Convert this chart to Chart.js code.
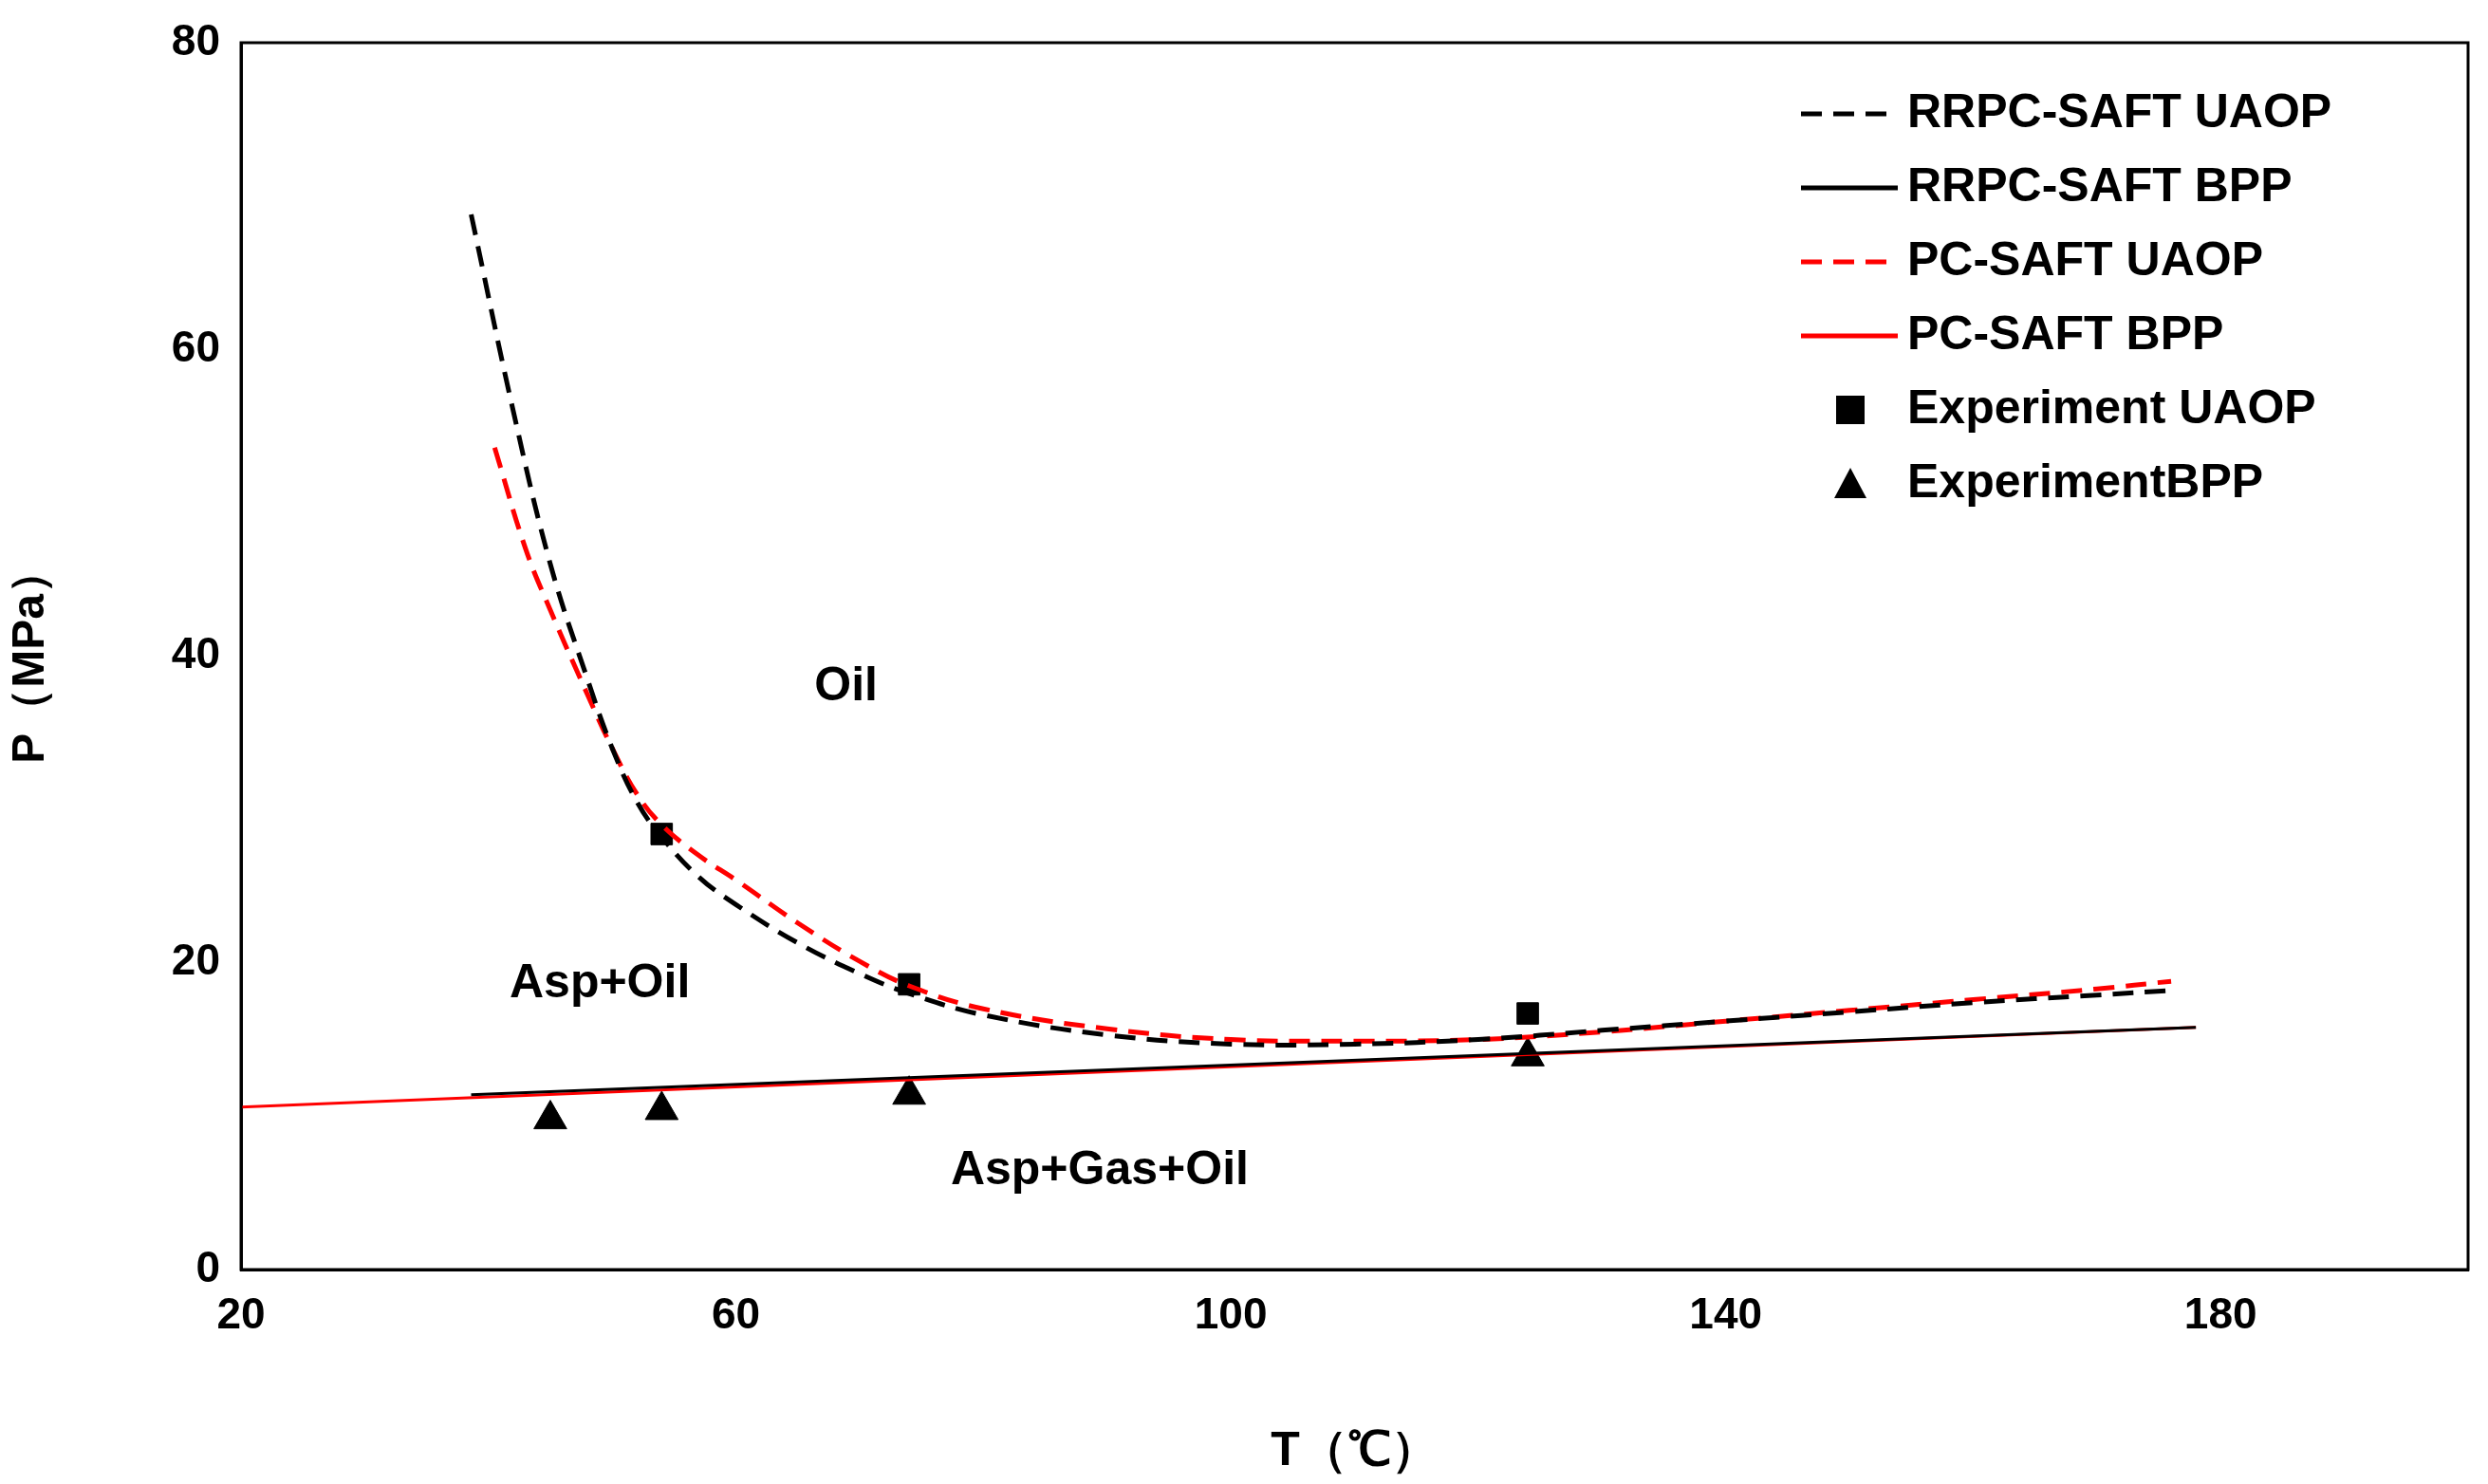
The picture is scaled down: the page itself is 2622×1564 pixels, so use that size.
<!DOCTYPE html>
<html><head><meta charset="utf-8">
<script src="https://cdn.jsdelivr.net/npm/chart.js@4"></script>
<style>html,body{margin:0;padding:0;background:#fff}canvas{display:block}</style>
</head><body>
<div style="width:2622px;height:1564px"><canvas id="c"></canvas></div>
<script>
const rrUaopT = [38.6, 42, 45, 48, 50, 52, 54, 57, 60, 65, 70, 74, 80, 90, 100, 110, 120, 130, 140, 150, 160, 170, 176];
const rrUaopP = [68.8, 56, 46, 38.5, 34, 30.5, 28.2, 25.6, 23.8, 21.3, 19.3, 18.0, 16.6, 15.3, 14.7, 14.7, 15.0, 15.6, 16.2, 16.8, 17.4, 17.9, 18.2];
const pcUaopT = [40.5, 43, 45, 48, 50, 52, 54, 57, 60, 65, 70, 74, 80, 90, 100, 110, 120, 130, 140, 150, 160, 170, 176];
const pcUaopP = [53.6, 47, 43, 37.5, 34, 31, 29.0, 27.0, 25.4, 22.6, 20.1, 18.5, 17.0, 15.7, 15.0, 14.9, 15.0, 15.5, 16.2, 16.9, 17.6, 18.3, 18.8];
const rrBppT = [38.6, 178];
const rrBppP = [11.4, 15.8];
const pcBppT = [20, 178];
const pcBppP = [10.6, 15.8];
const expUaopT = [54, 74, 124];
const expUaopP = [28.4, 18.6, 16.7];
const expBppT = [45, 54, 74, 124];
const expBppP = [9.8, 10.4, 11.4, 13.9];
const regionLabels = [["Oil", 68.9, 38], ["Asp+Oil", 49, 18.6], ["Asp+Gas+Oil", 89.4, 6.4]];
const legendItems = [
  ["RRPC-SAFT UAOP", "dash", "#000"], ["RRPC-SAFT BPP", "line", "#000"],
  ["PC-SAFT UAOP", "dash", "#f00"], ["PC-SAFT BPP", "line", "#f00"],
  ["Experiment UAOP", "square", "#000"], ["ExperimentBPP", "tri", "#000"]];
const pts = (a, b) => a.map((v, i) => ({x: v, y: b[i]}));
const FONT = "'Liberation Sans', Arial, sans-serif";

const overlay = {
  id: 'overlay',
  afterDraw(ch) {
    const c = ch.ctx, xs = ch.scales.x, ys = ch.scales.y, a = ch.chartArea;
    c.save();
    c.strokeStyle = '#000'; c.lineWidth = 3;
    c.strokeRect(a.left, a.top, a.right - a.left, a.bottom - a.top);
    c.fillStyle = '#000'; c.font = 'bold 50px ' + FONT; c.textAlign = 'center'; c.textBaseline = 'middle';
    regionLabels.forEach(r => c.fillText(r[0], xs.getPixelForValue(r[1]), ys.getPixelForValue(r[2])));
    c.textAlign = 'left';
    legendItems.forEach((it, i) => {
      const y = 120 + i * 78;
      c.strokeStyle = it[2]; c.fillStyle = it[2]; c.lineWidth = 5;
      if (it[1] === 'dash' || it[1] === 'line') {
        c.setLineDash(it[1] === 'dash' ? [22, 12] : []);
        c.beginPath(); c.moveTo(1898, y); c.lineTo(2000, y); c.stroke(); c.setLineDash([]);
      } else if (it[1] === 'square') {
        c.fillRect(1935, y - 15, 30, 30);
      } else {
        c.beginPath(); c.moveTo(1950, y - 17); c.lineTo(1967, y + 15); c.lineTo(1933, y + 15); c.closePath(); c.fill();
      }
      c.fillStyle = '#000'; c.fillText(it[0], 2010, y);
    });
    c.restore();
  }
};

new Chart(document.getElementById('c'), {
  type: 'scatter',
  data: { datasets: [
    {data: pts(rrUaopT, rrUaopP), showLine: true, borderColor: '#000', borderDash: [22, 12], borderWidth: 5, pointRadius: 0, tension: 0.4},
    {data: pts(rrBppT, rrBppP), showLine: true, borderColor: '#000', borderWidth: 3, pointRadius: 0},
    {data: pts(pcUaopT, pcUaopP), showLine: true, borderColor: '#f00', borderDash: [22, 12], borderWidth: 5, pointRadius: 0, tension: 0.4},
    {data: pts(pcBppT, pcBppP), showLine: true, borderColor: '#f00', borderWidth: 3, pointRadius: 0},
    {data: pts(expUaopT, expUaopP), pointStyle: 'rect', pointRadius: 16, backgroundColor: '#000', borderColor: '#000'},
    {data: pts(expBppT, expBppP), pointStyle: 'triangle', pointRadius: 20, backgroundColor: '#000', borderColor: '#000'}
  ]},
  options: {
    responsive: true, maintainAspectRatio: false, animation: false,
    layout: {padding: {top: 45, right: 19, left: 0, bottom: 0}},
    plugins: {legend: {display: false}, tooltip: {enabled: false}},
    scales: {
      x: {type: 'linear', min: 20, max: 200,
        afterBuildTicks: s => { s.ticks = [20, 60, 100, 140, 180].map(v => ({value: v})); },
        afterFit: s => { s.height = 226; },
        grid: {display: false, drawTicks: true, tickLength: 12, tickColor: '#000'},
        border: {color: '#000', width: 3},
        ticks: {color: '#000', font: {size: 46, weight: 'bold', family: FONT}, padding: 10},
        title: {display: true, text: 'T（℃）', color: '#000', font: {size: 50, weight: 'bold', family: FONT}, padding: {top: 24}}},
      y: {min: 0, max: 80,
        afterBuildTicks: s => { s.ticks = [0, 20, 40, 60, 80].map(v => ({value: v})); },
        afterFit: s => { s.width = 254; },
        grid: {display: false, drawTicks: true, tickLength: 12, tickColor: '#000'},
        border: {color: '#000', width: 3},
        ticks: {color: '#000', font: {size: 46, weight: 'bold', family: FONT}, padding: 10},
        title: {display: true, text: 'P（MPa）', color: '#000', font: {size: 48, weight: 'bold', family: FONT}, padding: {bottom: 45}}}
    }
  },
  plugins: [overlay]
});
</script>
</body></html>
